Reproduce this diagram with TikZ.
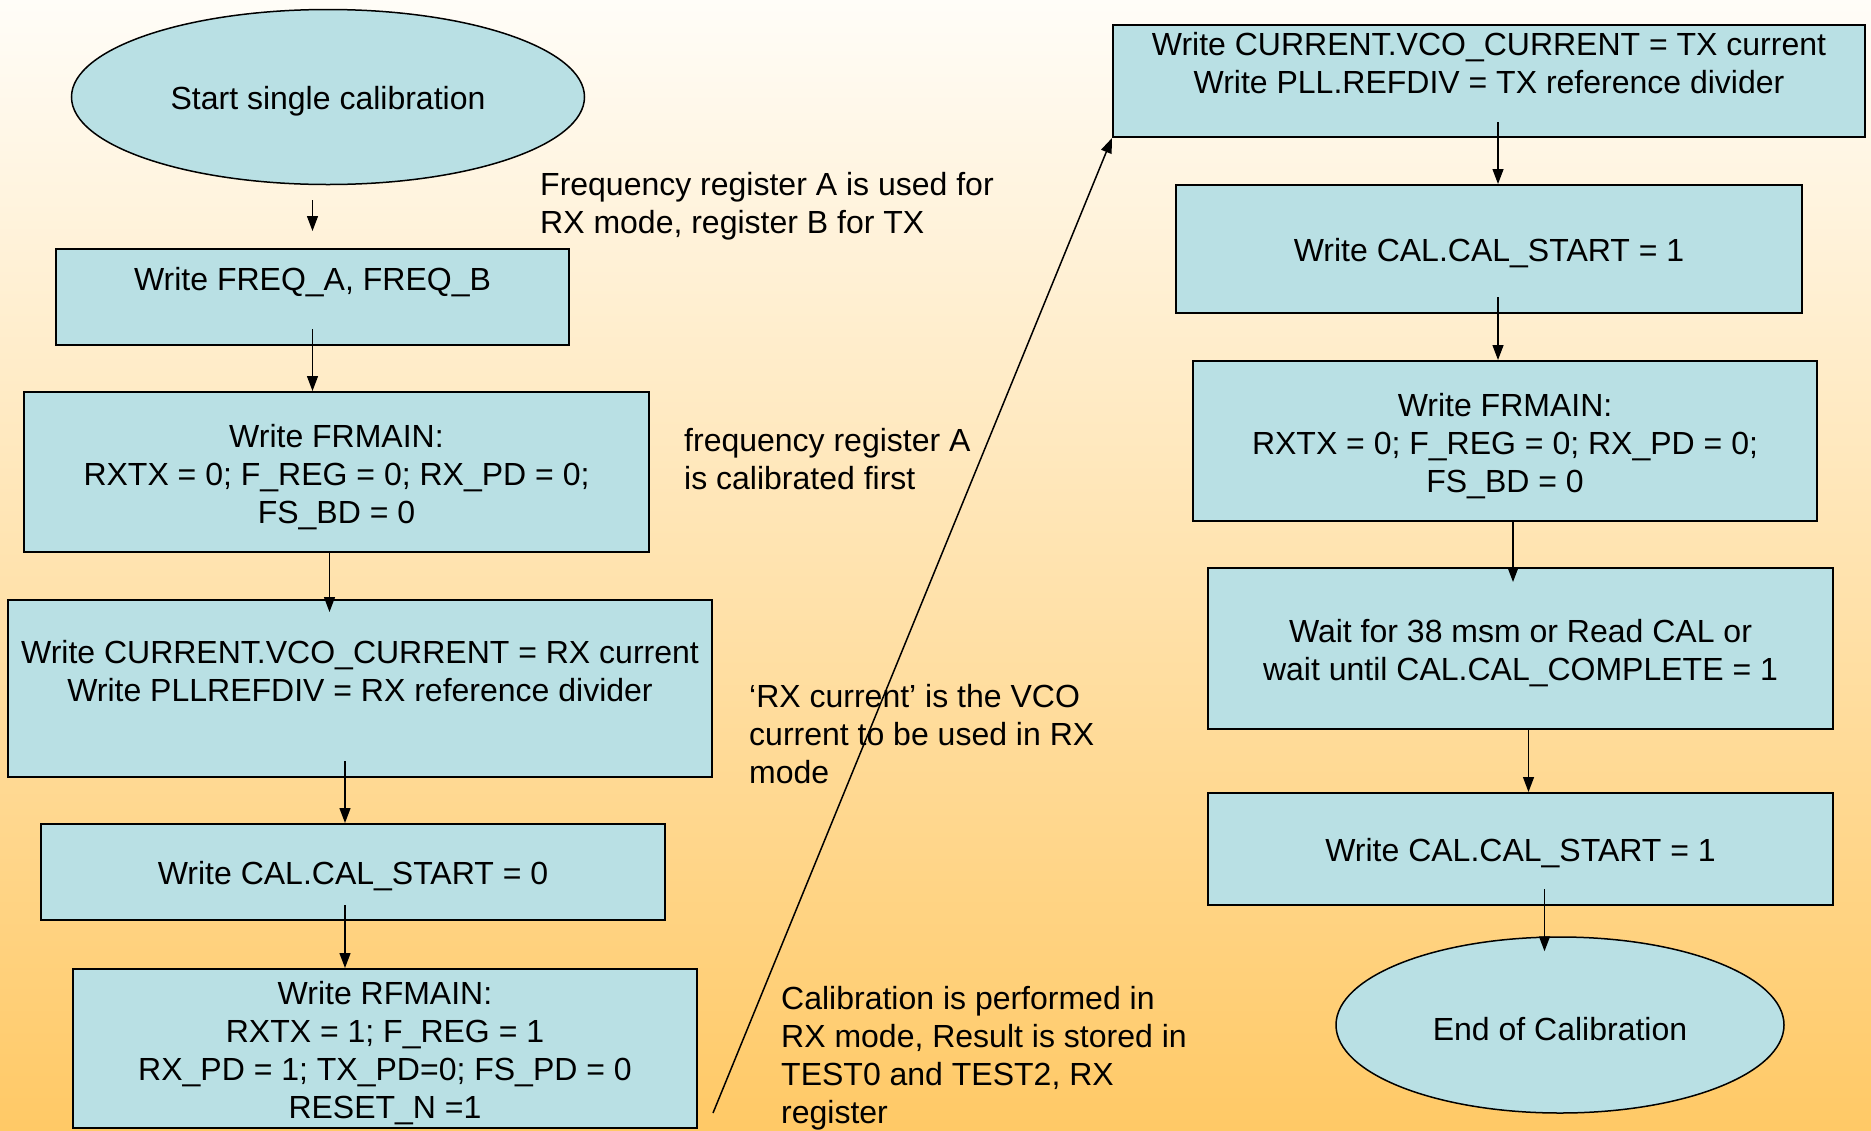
\documentclass[tikz,border=0pt]{standalone}
\usepackage{fontspec}
\setmainfont{Liberation Sans}
\usepackage{tikz}
\usetikzlibrary{calc}
\usetikzlibrary{positioning, arrows.meta, shapes.geometric}
\definecolor{boxfill}{RGB}{185,224,228}
\definecolor{bgtop}{RGB}{255,253,248}
\definecolor{bgmid}{RGB}{255,224,176}
\definecolor{bgbot}{RGB}{255,201,102}
\newcommand{\toppad}[1][31pt]{\rule{0pt}{#1}}

\begin{document}
\begin{tikzpicture}[
  x=1pt, y=-1pt,
  font=\fontsize{32}{38}\selectfont,
  process/.style={rectangle, draw=black, line width=2pt, fill=boxfill, align=center, inner sep=0pt},
  terminal/.style={ellipse, draw=black, line width=1.5pt, fill=boxfill, align=center, inner sep=0pt},
  remark/.style={anchor=west, align=left, inner sep=0pt},
  arrow/.style={-{Triangle[length=15pt,width=11pt]}, line width=1.3pt}
]
\useasboundingbox (0,0) rectangle (1871,1130);
\shade[top color=bgtop, middle color=bgmid, bottom color=bgbot] (0,0) rectangle (1871,1130);

% RX side
\node[terminal, minimum width=513pt, minimum height=175pt] (start) at (328,97) {\toppad Start single calibration};
\node[process, minimum width=513pt, minimum height=96pt] (freq) at (312.5,297) {\toppad[37pt]Write FREQ\_A, FREQ\_B\\\strut};
\node[process, minimum width=625pt, minimum height=160pt] (frmainrx) at (336.5,472) {\toppad[33pt]Write FRMAIN:\\RXTX = 0; F\_REG = 0; RX\_PD = 0;\\FS\_BD = 0};
\node[process, minimum width=704pt, minimum height=177pt] (currx) at (360,688.5) {\toppad[37pt]Write CURRENT.VCO\_CURRENT = RX current\\Write PLLREFDIV = RX reference divider\\\strut};
\node[process, minimum width=624pt, minimum height=96pt] (calzero) at (353,872) {\toppad Write CAL.CAL\_START = 0};
\node[process, minimum width=624pt, minimum height=159pt] (rfmain) at (385,1048.5) {\toppad[33pt]Write RFMAIN:\\RXTX = 1; F\_REG = 1\\RX\_PD = 1; TX\_PD=0; FS\_PD = 0\\RESET\_N =1};

% TX side
\node[process, minimum width=752pt, minimum height=112pt] (curtx) at (1489,81) {Write CURRENT.VCO\_CURRENT = TX current\\Write PLL.REFDIV = TX reference divider\rule[-36pt]{0pt}{0pt}};
\node[process, minimum width=626pt, minimum height=128pt] (calone) at (1489,249) {\toppad Write CAL.CAL\_START = 1};
\node[process, minimum width=624pt, minimum height=160pt] (frmaintx) at (1505,441) {\toppad[33pt]Write FRMAIN:\\RXTX = 0; F\_REG = 0; RX\_PD = 0;\\FS\_BD = 0};
\node[process, minimum width=625pt, minimum height=161pt] (wait) at (1520.5,648.5) {\toppad[33pt]Wait for 38 msm or Read CAL or\\wait until CAL.CAL\_COMPLETE = 1};
\node[process, minimum width=625pt, minimum height=112pt] (caltwo) at (1520.5,849) {\toppad Write CAL.CAL\_START = 1};
\node[terminal, minimum width=448pt, minimum height=176pt] (endcal) at (1560,1025) {\toppad End of Calibration};

% remarks
\node[remark] (regnote) at (540,206) {Frequency register A is used for\\RX mode, register B for TX};
\node[remark] (firstnote) at (684,459) {frequency register A\\is calibrated first};
\node[remark] (vconote) at (749,734) {‘RX current’ is the VCO\\current to be used in RX\\mode};
\node[remark] (resnote) at (781,1058) {Calibration is performed in\\RX mode, Result is stored in\\TEST0 and TEST2, RX\\register};

\draw[arrow] ($(start.south -| freq.north)+(0,15)$) -- ($(freq.north)+(0,-17)$);
\draw[arrow] ($(freq.south)+(0,-17)$) -- (freq.south |- frmainrx.north);
\draw[arrow] ($(frmainrx.south)+(-7,0)$) -- ($(frmainrx.south |- currx.north)+(-7,13)$);
\draw[arrow] ($(currx.south -| calzero.north)+(-8,-17)$) -- ($(calzero.north)+(-8,0)$);
\draw[arrow] ($(calzero.south)+(-8,-16)$) -- ($(calzero.south |- rfmain.north)+(-8,0)$);

\coordinate (rxdone) at (713,1113);
\draw[arrow, line width=1.5pt] (rxdone) -- (curtx.south west);

\draw[arrow] ($(curtx.south)+(9,-16)$) -- ($(curtx.south |- calone.north)+(9,0)$);
\draw[arrow] ($(calone.south)+(9,-17)$) -- ($(calone.south |- frmaintx.north)+(9,0)$);
\draw[arrow] ($(frmaintx.south)+(8,0)$) -- ($(frmaintx.south |- wait.north)+(8,15)$);
\draw[arrow] ($(wait.south)+(8,0)$) -- ($(wait.south |- caltwo.north)+(8,0)$);
\draw[arrow] ($(caltwo.south)+(24,-17)$) -- ($(caltwo.south |- endcal.north)+(24,15)$);
\end{tikzpicture}
\end{document}
